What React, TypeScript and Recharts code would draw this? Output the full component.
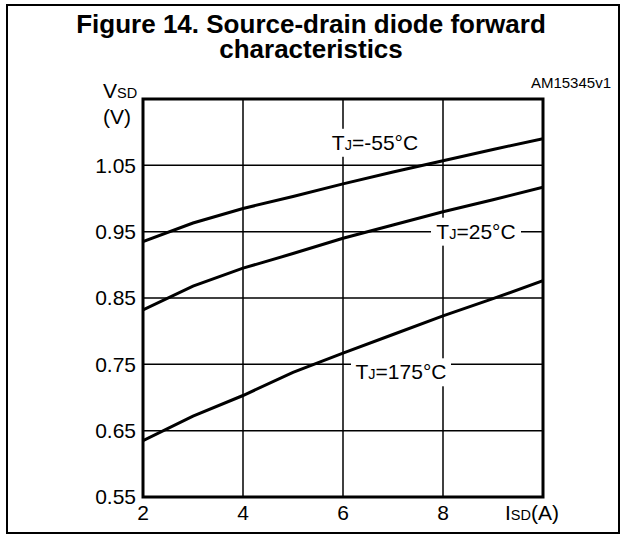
// Source-drain diode forward characteristics (VSD vs ISD at three junction temperatures)
import React from 'react'
import {
  LineChart,
  Line,
  XAxis,
  YAxis,
  CartesianGrid,
  ReferenceArea,
  ReferenceDot,
} from 'recharts'

const FONT = '"Liberation Sans", Arial, Helvetica, sans-serif'

// source-drain current, A
const currentA = [2, 3, 4, 5, 6, 7, 8, 9, 10]
// forward voltage, V
const vsdMinus55 = [0.935, 0.963, 0.985, 1.003, 1.022, 1.04, 1.057, 1.074, 1.09]
const vsd25 = [0.832, 0.868, 0.895, 0.917, 0.94, 0.96, 0.98, 0.998, 1.017]
const vsd175 = [0.635, 0.672, 0.703, 0.738, 0.767, 0.795, 0.823, 0.849, 0.876]

const xTicks = [2, 4, 6, 8]
const yTicks = [0.55, 0.65, 0.75, 0.85, 0.95, 1.05]

// where each curve label sits (data coordinates)
const curveLabels = [
  { temp: '-55°C', i: 6.64, v: 1.084, w: 92 },
  { temp: '25°C', i: 8.66, v: 0.95, w: 90 },
  { temp: '175°C', i: 7.16, v: 0.738, w: 100 },
]

const toSeries = (vals: number[]) => currentA.map((i, k) => ({ i, v: vals[k] }))

const seriesList = [
  { key: 'm55', data: toSeries(vsdMinus55) },
  { key: 't25', data: toSeries(vsd25) },
  { key: 't175', data: toSeries(vsd175) },
]

function CurveLabel({ cx, cy, temp, w }: { cx?: number; cy?: number; temp: string; w: number }) {
  if (cx == null || cy == null) return null
  return (
    <g>
      <rect x={cx - w / 2} y={cy - 14} width={w} height={28} fill="#fff" />
      <text x={cx} y={cy + 7} textAnchor="middle" fontSize={21} fontFamily={FONT} fill="#000">
        T<tspan fontSize={14.5}>J</tspan>={temp}
      </text>
    </g>
  )
}

export default function App() {
  return (
    <div style={{ position: 'relative', width: 621, height: 536, background: '#fff', overflow: 'hidden' }}>
      <style>{'body{margin:0}'}</style>
      <div
        style={{
          position: 'absolute',
          left: 6,
          top: 4,
          width: 614,
          height: 530,
          border: '2px solid #000',
          boxSizing: 'border-box',
        }}
      />
      <LineChart
        width={621}
        height={536}
        margin={{ top: 99, right: 78, bottom: 9, left: 83 }}
        style={{ position: 'absolute', left: 0, top: 0 }}
      >
        <CartesianGrid stroke="#000" strokeWidth={1.5} />
        <XAxis
          type="number"
          dataKey="i"
          domain={[2, 10]}
          ticks={xTicks}
          height={30}
          axisLine={false}
          tickLine={false}
          tickSize={0}
          tickMargin={8}
          tick={{ fill: '#000', fontSize: 21, fontFamily: FONT }}
          allowDataOverflow
        />
        <YAxis
          type="number"
          domain={[0.55, 1.15]}
          ticks={yTicks}
          width={60}
          axisLine={false}
          tickLine={false}
          tickSize={0}
          tickMargin={7}
          tickFormatter={(v: number) => v.toFixed(2)}
          tick={{ fill: '#000', fontSize: 21, fontFamily: FONT }}
          allowDataOverflow
        />
        <ReferenceArea x1={2} x2={10} y1={0.55} y2={1.15} fill="none" stroke="#000" strokeWidth={3} />
        {seriesList.map((s) => (
          <Line
            key={s.key}
            data={s.data}
            dataKey="v"
            type="linear"
            stroke="#000"
            strokeWidth={3}
            dot={false}
            activeDot={false}
            isAnimationActive={false}
          />
        ))}
        {curveLabels.map((c) => (
          <ReferenceDot
            key={c.temp}
            x={c.i}
            y={c.v}
            r={0}
            shape={(p: any) => <CurveLabel cx={p.cx} cy={p.cy} temp={c.temp} w={c.w} />}
          />
        ))}
      </LineChart>
      <svg
        width={621}
        height={536}
        style={{ position: 'absolute', left: 0, top: 0, pointerEvents: 'none' }}
        fontFamily={FONT}
      >
        <text x={311} y={33} textAnchor="middle" fontSize={26} fontWeight="bold" fill="#000">
          Figure 14. Source-drain diode forward
        </text>
        <text x={311} y={58} textAnchor="middle" fontSize={26} fontWeight="bold" fill="#000">
          characteristics
        </text>
        <text x={611} y={88} textAnchor="end" fontSize={15} fill="#000">
          AM15345v1
        </text>
        <text x={103} y={98} fontSize={21} fill="#000">
          V<tspan fontSize={14.5}>SD</tspan>
        </text>
        <text x={103} y={124} fontSize={21} fill="#000">
          (V)
        </text>
        <text x={505} y={520} fontSize={21} fill="#000">
          I<tspan fontSize={14.5}>SD</tspan>(A)
        </text>
      </svg>
    </div>
  )
}
